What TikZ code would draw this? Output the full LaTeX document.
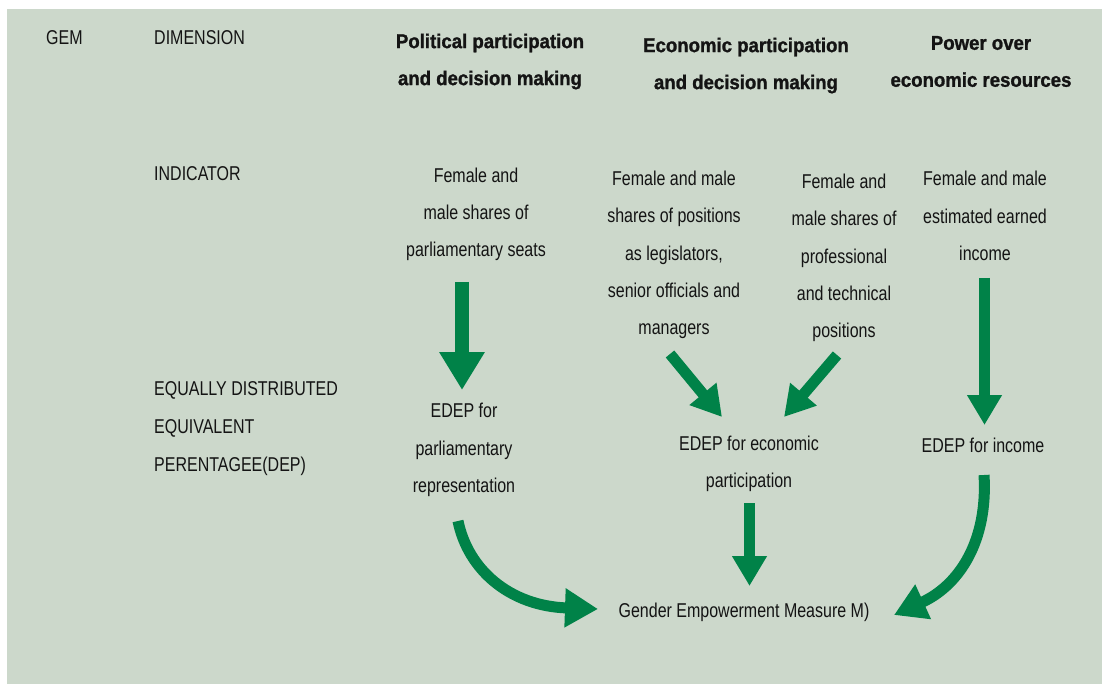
\documentclass[tikz,border=0pt]{standalone}
\usepackage{fontspec}
\setmainfont{Liberation Sans}[FakeStretch=0.8, BoldFeatures={FakeStretch=0.93, FakeBold=1.2}]
\usetikzlibrary{arrows.meta}
\definecolor{panel}{RGB}{204,216,203}
\definecolor{arrowgreen}{RGB}{0,130,72}
\definecolor{ink}{RGB}{20,20,20}
\begin{document}
\begin{tikzpicture}[x=1pt,y=-1pt,
  txt/.style={inner sep=0pt, font=\fontsize{20}{37.3}\selectfont, align=center, text=ink},
  head/.style={txt, font=\fontsize{20}{37}\selectfont\bfseries},
  rowlabel/.style={txt, anchor=west, align=left},
  flow/.style={draw=arrowgreen, line width=11pt, -{Triangle[length=30pt,width=33pt]}},
  ]
% page and panel
\useasboundingbox (0,0) rectangle (1102,684);
\fill[white] (0,0) rectangle (1102,684);
\fill[panel] (7,9) rectangle (1102,684);

% row / column labels
\node[rowlabel] (gem) at (46,38) {GEM};
\node[rowlabel] (dim) at (154,38) {DIMENSION};
\node[rowlabel] (ind) at (154,173.5) {INDICATOR};
\node[rowlabel, font=\fontsize{20}{38}\selectfont] (dep) at (154,428.5) {EQUALLY DISTRIBUTED\\EQUIVALENT\\PERENTAGEE(DEP)};

% dimensions
\node[head] (d1) at (490,61.5) {Political participation\\and decision making};
\node[head] (d2) at (746,65.5) {Economic participation\\and decision making};
\node[head] (d3) at (981,61.5) {Power over\\economic resources};

% indicators
\node[txt] (i1) at (476,214.5) {Female and\\male shares of\\parliamentary seats};
\node[txt] (i2) at (674,255) {Female and male\\shares of positions\\as legislators,\\senior officials and\\managers};
\node[txt] (i3) at (844,258) {Female and\\male shares of\\professional\\and technical\\positions};
\node[txt] (i4) at (985,216) {Female and male\\estimated earned\\income};

% equally distributed equivalent percentages
\node[txt] (e1) at (464,450) {EDEP for\\parliamentary\\representation};
\node[txt] (e2) at (749,464) {EDEP for economic\\participation};
\node[txt] (e3) at (983,445) {EDEP for income};

% index
\node[txt] (gemm) at (744,612) {Gender Empowerment Measure M)};

% arrow end points
\coordinate (a1s) at (462,282);   \coordinate (a1e) at (462,390);
\coordinate (a2s) at (670,354);   \coordinate (a2e) at (722,417);
\coordinate (a3s) at (837,355);   \coordinate (a3e) at (784,417);
\coordinate (a4s) at (749.5,503); \coordinate (a4e) at (749.5,586);
\coordinate (a5s) at (984.5,278); \coordinate (a5e) at (984.5,425);
\coordinate (c1s) at (458,521);   \coordinate (c1e) at (598,609);
\coordinate (c2s) at (984,475);   \coordinate (c2e) at (894,615);

% arrows
\draw[flow, line width=14pt, -{Triangle[length=38pt,width=43pt]}] (a1s) -- (a1e);
\draw[flow] (a2s) -- (a2e);
\draw[flow] (a3s) -- (a3e);
\draw[flow] (a4s) -- (a4e);
\draw[flow] (a5s) -- (a5e);
\draw[flow, -{Triangle[length=33pt,width=37pt]}]
  (c1s) .. controls (468,570) and (510,606) .. (c1e);
\draw[flow, -{Triangle[length=32pt,width=36pt]}]
  (c2s) .. controls (988,540) and (960,585) .. (c2e);
\end{tikzpicture}
\end{document}
